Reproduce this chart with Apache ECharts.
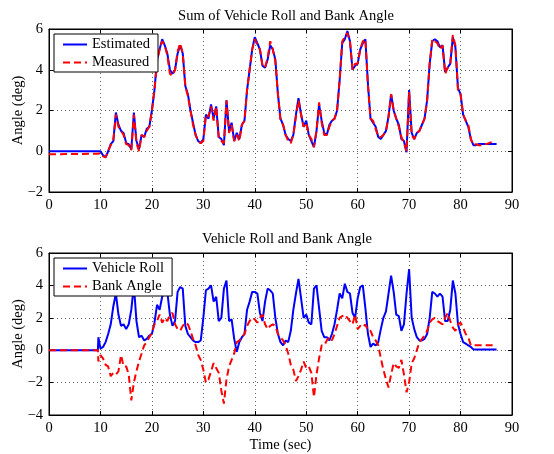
<!DOCTYPE html>
<html>
<head>
<meta charset="utf-8">
<script src="https://cdn.jsdelivr.net/npm/echarts@6/dist/echarts.min.js"></script>
<style>html,body{margin:0;padding:0;background:#fff;}#c{width:554px;height:454px;}</style>
</head>
<body>
<div id="c"></div>
<script>
// sample times (s)
var timeHead = [0, 9.5, 9.6];
var timeBody = [
  10,10.5,11,11.5,12,12.5,13,13.5,14,14.5,
  15,15.5,16,16.5,17,17.5,18,18.5,19,19.5,
  20,20.5,21,21.5,22,22.5,23,23.5,24,24.5,
  25,25.5,26,26.5,27,27.5,28,28.5,29,29.5,
  30,30.5,31,31.5,32,32.5,33,33.5,34,34.5,
  35,35.5,36,36.5,37,37.5,38,38.5,39,39.5,
  40,40.5,41,41.5,42,42.5,43,43.5,44,44.5,
  45,45.5,46,46.5,47,47.5,48,48.5,49,49.5,
  50,50.5,51,51.5,52,52.5,53,53.5,54,54.5,
  55,55.5,56,56.5,57,57.5,58,58.5,59,59.5,
  60,60.5,61,61.5,62,62.5,63,63.5,64,64.5,
  65,65.5,66,66.5,67,67.5,68,68.5,69,69.5,
  70,70.5,71,71.5,72,72.5,73,73.5,74,74.5,
  75,75.5,76,76.5,77,77.5,78,78.5,79,79.5,
  80,80.5,81,81.5,82,82.5,83,83.5,84,84.5,
  85,85.5,86,86.5,87
];

// Top chart: Sum of vehicle roll and bank angle
var estimated = [0, 0, 0.05,
  0.0,-0.2,-0.3,0.0,0.35,0.5,1.9,1.3,1.0,0.9,
  0.4,0.35,0.1,1.9,0.5,0.1,0.8,0.7,1.1,1.2,
  2.0,3.0,4.5,5.0,5.5,5.2,4.8,4.0,3.8,4.0,
  4.8,5.2,4.8,3.2,2.8,2.0,1.4,0.8,0.5,0.4,
  0.6,1.8,1.6,2.3,1.6,2.2,0.7,0.6,0.3,2.5,
  1.0,1.4,0.5,0.9,0.6,1.3,1.5,3.0,4.0,5.0,
  5.6,5.3,5.0,4.2,4.1,4.5,5.2,5.0,4.5,2.8,
  1.6,1.3,0.8,0.6,0.5,0.8,1.8,2.6,1.8,1.2,
  1.5,0.8,0.5,0.2,1.0,2.3,1.5,0.9,0.8,1.3,
  1.5,1.6,2.0,3.5,5.3,5.5,5.9,5.4,4.0,4.2,
  4.3,5.0,5.3,5.5,3.3,1.6,1.4,1.2,0.7,0.6,
  0.8,1.0,1.7,2.8,2.0,1.6,1.3,0.6,0.5,-0.05,
  3.0,0.9,0.6,0.9,1.0,1.3,1.6,2.5,4.3,5.4,
  5.5,5.4,5.1,5.2,3.9,4.1,4.3,5.6,5.1,3.1,
  2.8,1.8,1.5,1.2,0.6,0.3,0.3,0.35,0.35,0.35,
  0.35,0.35,0.35,0.35,0.35
];
var measured = [-0.15, -0.12, -0.1,
  -0.1,-0.25,-0.3,0.0,0.3,0.5,1.8,1.2,1.0,0.8,
  0.35,0.3,0.05,1.8,0.4,0.0,0.8,0.7,1.0,1.2,
  2.0,3.0,4.4,5.0,5.4,5.2,4.7,3.8,3.7,4.0,
  4.9,5.3,4.8,3.2,2.7,2.0,1.3,0.8,0.5,0.4,
  0.5,1.8,1.7,2.2,1.5,2.2,0.6,0.5,0.4,2.5,
  0.9,1.3,0.5,0.8,0.5,1.3,1.5,3.0,4.0,5.0,
  5.5,5.2,5.0,4.2,4.1,4.6,5.4,5.0,4.4,2.8,
  1.5,1.3,0.8,0.5,0.4,0.8,1.7,2.5,1.8,1.2,
  1.4,0.8,0.6,0.2,1.0,2.4,1.4,0.8,0.8,1.2,
  1.5,1.6,2.0,3.5,5.4,5.6,5.8,5.4,4.0,4.3,
  4.3,5.0,5.4,5.5,3.2,1.6,1.5,1.1,0.7,0.7,
  0.8,1.0,1.7,2.8,2.0,1.6,1.2,0.7,0.4,0.0,
  2.9,0.8,0.6,0.9,1.0,1.3,1.6,2.5,4.3,5.5,
  5.4,5.3,5.0,5.2,3.8,4.1,4.3,5.7,5.2,3.0,
  2.8,1.8,1.5,1.3,0.6,0.3,0.35,0.3,0.3,0.35,
  0.35,0.4,0.45,0.5
];

// Bottom chart: vehicle roll and bank angle
var vehicleRoll = [0, 0, 0.8,
  0.1,0.2,0.5,1.0,1.6,2.7,3.5,2.2,1.5,1.6,
  1.3,1.6,2.5,4.0,1.8,0.8,0.9,0.6,0.7,0.9,
  1.0,1.7,2.8,2.5,3.3,3.6,3.6,2.2,1.5,1.8,
  3.6,3.9,3.8,1.5,1.0,0.8,0.6,0.5,0.5,0.6,
  2.0,3.7,3.8,4.0,3.0,3.3,1.8,2.0,3.8,4.3,
  1.8,1.9,0.7,-0.1,0.5,0.8,1.0,2.5,3.0,3.6,
  3.6,3.5,2.3,1.8,3.0,3.8,3.7,3.5,2.0,1.0,
  0.5,0.3,0.6,0.5,1.2,2.5,3.5,4.4,3.2,2.0,
  2.2,1.7,1.6,3.8,4.0,2.6,1.2,0.8,0.8,0.6,
  1.0,1.6,2.5,3.5,3.2,4.1,3.6,3.5,2.3,2.0,
  3.2,3.9,4.0,2.6,1.0,0.2,0.4,0.3,0.5,1.3,
  2.0,2.4,3.5,4.6,3.6,2.2,2.1,1.2,1.6,3.5,
  5.0,2.0,1.3,0.8,0.6,0.6,0.7,1.0,2.0,3.6,
  3.5,3.3,3.5,3.3,1.8,1.8,2.5,4.3,3.5,1.6,
  1.0,0.5,0.4,0.3,0.2,0.05,0.05,0.05,0.05,0.05,
  0.05,0.05,0.05,0.05,0.05
];
var bankAngle = [0, 0, -0.7,
  -0.3,-0.5,-0.9,-1.0,-1.6,-1.4,-1.5,-1.3,-0.3,-1.0,
  -1.0,-1.5,-3.1,-2.0,-1.3,-0.7,-0.2,0.3,0.5,0.8,
  1.1,1.6,1.8,2.2,1.7,2.0,1.8,2.2,2.3,1.6,
  1.3,1.2,1.5,1.7,1.6,1.2,0.7,0.3,-0.3,-0.6,
  -1.2,-2.0,-1.8,-1.3,-0.8,-1.1,-1.4,-2.5,-3.3,-1.8,
  -1.0,-0.6,-0.2,0.5,0.6,0.8,1.0,1.5,1.8,2.0,
  1.9,1.7,2.0,2.2,1.6,1.3,1.5,1.6,1.5,1.0,
  0.8,0.6,0.3,-0.2,-0.9,-1.2,-1.9,-1.6,-1.2,-0.7,
  -1.1,-1.0,-1.4,-2.9,-1.5,-0.5,0.3,0.3,0.6,0.8,
  0.6,1.0,1.5,2.0,2.1,2.2,2.0,1.8,1.6,2.2,
  1.3,1.5,1.4,1.6,1.2,1.2,0.8,0.6,0.3,-0.5,
  -1.2,-1.8,-2.3,-1.5,-0.8,-1.0,-1.1,-0.6,-1.5,-2.6,
  -2.0,-0.8,-0.5,0.0,0.5,0.7,0.9,1.2,1.7,1.9,
  2.0,1.8,1.7,1.6,2.0,2.3,1.8,1.4,1.2,1.6,
  1.7,1.4,1.0,0.8,0.3,0.3,0.3,0.3,0.3,0.3,
  0.3,0.3,0.3,0.3,0.3
];

var xTicks = [0,10,20,30,40,50,60,70,80,90];
var topYTicks = [-2,0,2,4,6];
var botYTicks = [-4,-2,0,2,4,6];

var times = timeHead.concat(timeBody);
function pairs(vals) {
  var out = [];
  for (var i = 0; i < vals.length && i < times.length; i++) out.push([times[i], vals[i]]);
  return out;
}

var FONT = 'Liberation Serif';
var gridLine = { show: true, lineStyle: { color: '#666', type: [1, 3], width: 1 } };
function xAx(gi, showName) {
  return {
    type: 'value', gridIndex: gi, min: xTicks[0], max: xTicks[xTicks.length-1], interval: 10,
    axisLine: { show: true, onZero: false, lineStyle: { color: '#000', width: 1 } },
    axisTick: { show: true, inside: true, length: 4, lineStyle: { color: '#000' } },
    axisLabel: { color: '#000', fontFamily: FONT, fontSize: 14.5, margin: 6 },
    splitLine: gridLine,
    name: showName ? 'Time (sec)' : '', nameLocation: 'middle', nameGap: 23, nameMoveOverlap: false,
    nameTextStyle: { color: '#000', fontFamily: FONT, fontSize: 14.5 }
  };
}
function xAxTop(gi) {
  return {
    type: 'value', gridIndex: gi, position: 'top', min: 0, max: 90, interval: 10,
    axisLine: { show: true, onZero: false, lineStyle: { color: '#000', width: 1 } },
    axisTick: { show: true, inside: true, length: 4, lineStyle: { color: '#000' } },
    axisLabel: { show: false }, splitLine: { show: false }
  };
}
function yAx(gi, ticks) {
  return {
    type: 'value', gridIndex: gi, min: ticks[0], max: ticks[ticks.length-1], interval: 2,
    axisLine: { show: true, onZero: false, lineStyle: { color: '#000', width: 1 } },
    axisTick: { show: true, inside: true, length: 4, lineStyle: { color: '#000' } },
    axisLabel: { color: '#000', fontFamily: FONT, fontSize: 14.5, margin: 6,
      formatter: function (v) { return v < 0 ? '\u2212' + (-v) : String(v); } },
    splitLine: gridLine,
    name: 'Angle (deg)', nameLocation: 'middle', nameGap: 23, nameRotate: 90, nameMoveOverlap: false,
    nameTextStyle: { color: '#000', fontFamily: FONT, fontSize: 14.5 }
  };
}
function yAxRight(gi, ticks) {
  return {
    type: 'value', gridIndex: gi, position: 'right', min: ticks[0], max: ticks[ticks.length-1], interval: 2,
    axisLine: { show: true, onZero: false, lineStyle: { color: '#000', width: 1 } },
    axisTick: { show: true, inside: true, length: 4, lineStyle: { color: '#000' } },
    axisLabel: { show: false }, splitLine: { show: false }
  };
}

var BLUE = '#0000ff', RED = '#ff0000';
function lineSeries(name, vals, xi, yi, color, dashed, z) {
  return {
    name: name, type: 'line', xAxisIndex: xi, yAxisIndex: yi, data: pairs(vals),
    showSymbol: false, symbol: 'none', animation: false, z: z,
    lineStyle: { color: color, width: 2, type: dashed ? [7, 4] : 'solid' },
    itemStyle: { color: color }
  };
}

function legendOpt(names, top) {
  return {
    data: names, orient: 'vertical', left: 54, top: top,
    backgroundColor: '#fff', borderColor: '#000', borderWidth: 1, padding: [3, 8, 2, 8],
    itemWidth: 24, itemHeight: 12, itemGap: 3,
    itemStyle: { color: 'rgba(0,0,0,0)', borderColor: 'rgba(0,0,0,0)', borderWidth: 0, opacity: 0 },
    textStyle: { fontFamily: FONT, fontSize: 14.5, color: '#000' }
  };
}

var chart = echarts.init(document.getElementById('c'), null, { renderer: 'canvas' });
chart.setOption({
  animation: false,
  backgroundColor: '#fff',
  title: [
    { text: 'Sum of Vehicle Roll and Bank Angle', left: 281, top: 4, textAlign: 'center',
      textStyle: { fontFamily: FONT, fontSize: 14.5, fontWeight: 'normal', color: '#000' } },
    { text: 'Vehicle Roll and Bank Angle', left: 282, top: 227, textAlign: 'center',
      textStyle: { fontFamily: FONT, fontSize: 14.5, fontWeight: 'normal', color: '#000' } }
  ],
  grid: [
    { left: 49, top: 29, width: 463, height: 163, show: true, borderColor: '#000', borderWidth: 1, backgroundColor: '#fff' },
    { left: 49, top: 253, width: 463, height: 163, show: true, borderColor: '#000', borderWidth: 1, backgroundColor: '#fff' }
  ],
  xAxis: [xAx(0, false), xAx(1, true), xAxTop(0), xAxTop(1)],
  yAxis: [yAx(0, topYTicks), yAx(1, botYTicks), yAxRight(0, topYTicks), yAxRight(1, botYTicks)],
  legend: [
    legendOpt(['Estimated', 'Measured'], 34),
    legendOpt(['Vehicle Roll', 'Bank Angle'], 258)
  ],
  series: [
    lineSeries('Estimated', estimated, 0, 0, BLUE, false, 2),
    lineSeries('Measured', measured, 0, 0, RED, true, 3),
    lineSeries('Vehicle Roll', vehicleRoll, 1, 1, BLUE, false, 2),
    lineSeries('Bank Angle', bankAngle, 1, 1, RED, true, 3)
  ]
});
</script>
</body>
</html>
